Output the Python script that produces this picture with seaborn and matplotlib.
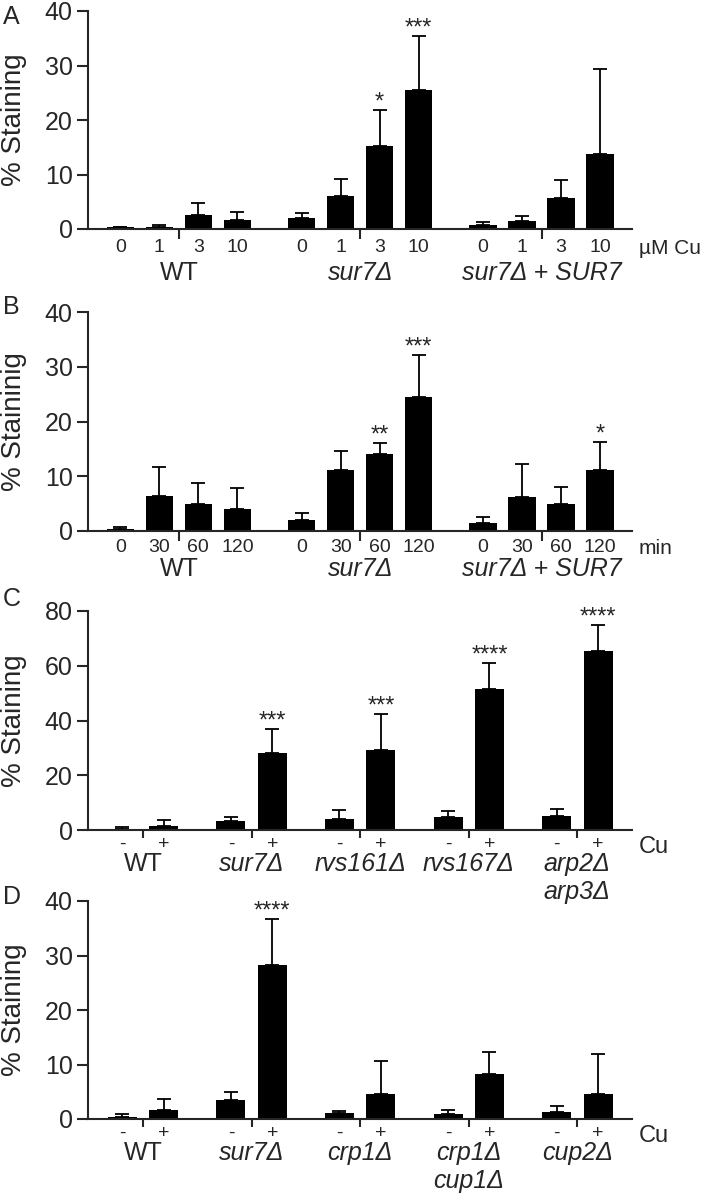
import matplotlib
matplotlib.use("Agg")
import matplotlib.pyplot as plt
import numpy as np
import pandas as pd
import seaborn as sns

# ---- data (mean, SD) ----
# A: copper dose series
a_groups = ["WT", "sur7Δ", "sur7Δ + SUR7"]
a_conds = ["0", "1", "3", "10"]
a_wt = [0.3, 0.4, 2.6, 1.7]
a_wt_sd = [0.15, 0.3, 2.2, 1.35]
a_sur7 = [1.95, 6.1, 15.3, 25.5]
a_sur7_sd = [0.95, 3.1, 6.6, 9.9]
a_comp = [0.7, 1.5, 5.7, 13.7]
a_comp_sd = [0.5, 0.9, 3.2, 15.7]
a_stars = [["", "", "", ""], ["", "", "*", "***"], ["", "", "", ""]]

# B: time course
b_groups = ["WT", "sur7Δ", "sur7Δ + SUR7"]
b_conds = ["0", "30", "60", "120"]
b_wt = [0.4, 6.45, 5.0, 4.1]
b_wt_sd = [0.3, 5.15, 3.8, 3.8]
b_sur7 = [2.1, 11.1, 14.1, 24.4]
b_sur7_sd = [1.1, 3.6, 2.0, 7.7]
b_comp = [1.4, 6.2, 5.0, 11.1]
b_comp_sd = [1.2, 6.1, 3.0, 5.2]
b_stars = [["", "", "", ""], ["", "", "**", "***"], ["", "", "", "*"]]

# C: endocytosis mutants, - / + Cu
c_groups = ["WT", "sur7Δ", "rvs161Δ", "rvs167Δ", "arp2Δ\narp3Δ"]
c_minus = [0.5, 3.4, 4.1, 4.9, 5.1]
c_minus_sd = [0.5, 1.5, 3.2, 2.2, 2.4]
c_plus = [1.6, 28.1, 29.2, 51.5, 65.3]
c_plus_sd = [2.1, 8.7, 13.3, 9.5, 9.5]
c_stars = ["", "***", "***", "****", "****"]

# D: copper regulation mutants, - / + Cu
d_groups = ["WT", "sur7Δ", "crp1Δ", "crp1Δ\ncup1Δ", "cup2Δ"]
d_minus = [0.4, 3.4, 1.1, 1.0, 1.3]
d_minus_sd = [0.6, 1.5, 0.4, 0.7, 1.0]
d_plus = [1.6, 28.2, 4.5, 8.2, 4.6]
d_plus_sd = [2.0, 8.5, 6.1, 4.1, 7.3]
d_stars = ["", "****", "", "", ""]

pm_conds = ["-", "+"]

sns.set_theme(style="ticks")
plt.rcParams["font.family"] = ["Liberation Sans", "DejaVu Sans"]
plt.rcParams["axes.linewidth"] = 1.5


def draw_panel(ax, groups, conds, means, sds, stars, gap, ymax, ystep,
               ylabel, unit, unit_size, pad_major, pad_minor, tick_len):
    n = len(conds)
    rows = []
    for g, grp in enumerate(groups):
        for i, c in enumerate(conds):
            rows.append({"pos": g * (n + gap) + i, "value": means[g][i],
                         "sd": sds[g][i], "star": stars[g][i]})
    df = pd.DataFrame(rows)

    sns.barplot(data=df, x="pos", y="value", native_scale=True, color="black",
                saturation=1, errorbar=None, width=0.7, linewidth=0, ax=ax)
    ax.errorbar(df["pos"], df["value"], yerr=[np.zeros(len(df)), df["sd"]],
                fmt="none", ecolor="black", elinewidth=1.3, capsize=5,
                capthick=1.3)
    for _, r in df.iterrows():
        if r["star"]:
            ax.annotate(r["star"], xy=(r["pos"], r["value"] + r["sd"]),
                        xytext=(0, 1), textcoords="offset points",
                        ha="center", va="baseline", fontsize=17)

    last = df["pos"].max()
    ax.set_xlim(-0.83, last + 0.82)
    ax.set_ylim(0, ymax)
    ax.set_yticks(np.arange(0, ymax + 1, ystep))
    centers = [g * (n + gap) + (n - 1) / 2 for g in range(len(groups))]
    ax.set_xticks(centers, labels=groups)
    ax.set_xticks(df["pos"], labels=conds * len(groups), minor=True)
    ax.tick_params(axis="x", which="major", length=tick_len, width=1.5,
                   pad=pad_major, labelsize=18)
    ax.tick_params(axis="x", which="minor", length=0, pad=pad_minor,
                   labelsize=14)
    ax.tick_params(axis="y", length=8, width=1.5, pad=3, labelsize=18)
    for lab in ax.get_xticklabels():
        if lab.get_text() != "WT":
            lab.set_style("italic")
    ax.set_xlabel("")
    ax.set_ylabel(ylabel, fontsize=20)
    ax.yaxis.set_label_coords(-0.112, 0.5)
    ax.annotate(unit, xy=(1.0, 0), xycoords="axes fraction",
                xytext=(5, -pad_minor), textcoords="offset points",
                ha="left", va="top", fontsize=unit_size)
    ax.patch.set_alpha(0)
    sns.despine(ax=ax)


W, H = 702, 1198
fig = plt.figure(figsize=(W / 100, H / 100), dpi=100)


def add_axes(top, bottom):
    return fig.add_axes([88 / W, 1 - bottom / H, 544 / W, (bottom - top) / H])


axA = add_axes(11, 229)
draw_panel(axA, a_groups, a_conds, [a_wt, a_sur7, a_comp],
           [a_wt_sd, a_sur7_sd, a_comp_sd], a_stars, 0.65, 40, 10,
           "% Staining", "µM Cu", 15, 16, 7, 7)

axB = add_axes(312, 531)
draw_panel(axB, b_groups, b_conds, [b_wt, b_sur7, b_comp],
           [b_wt_sd, b_sur7_sd, b_comp_sd], b_stars, 0.65, 40, 10,
           "% Staininig", "min", 15, 12, 6, 7)

axC = add_axes(611, 830)
draw_panel(axC, c_groups, pm_conds,
           [[m, p] for m, p in zip(c_minus, c_plus)],
           [[m, p] for m, p in zip(c_minus_sd, c_plus_sd)],
           [["", s] for s in c_stars], 0.62, 80, 20,
           "% Staining", "Cu", 17, 10, 4, 6)

axD = add_axes(901, 1119)
draw_panel(axD, d_groups, pm_conds,
           [[m, p] for m, p in zip(d_minus, d_plus)],
           [[m, p] for m, p in zip(d_minus_sd, d_plus_sd)],
           [["", s] for s in d_stars], 0.62, 40, 10,
           "% Staining", "Cu", 17, 10, 4, 6)

for letter, top in zip("ABCD", [5, 295, 587, 885]):
    fig.text(3 / W, 1 - top / H, letter, ha="left", va="top", fontsize=18)

fig.savefig("out.png", dpi=100)
